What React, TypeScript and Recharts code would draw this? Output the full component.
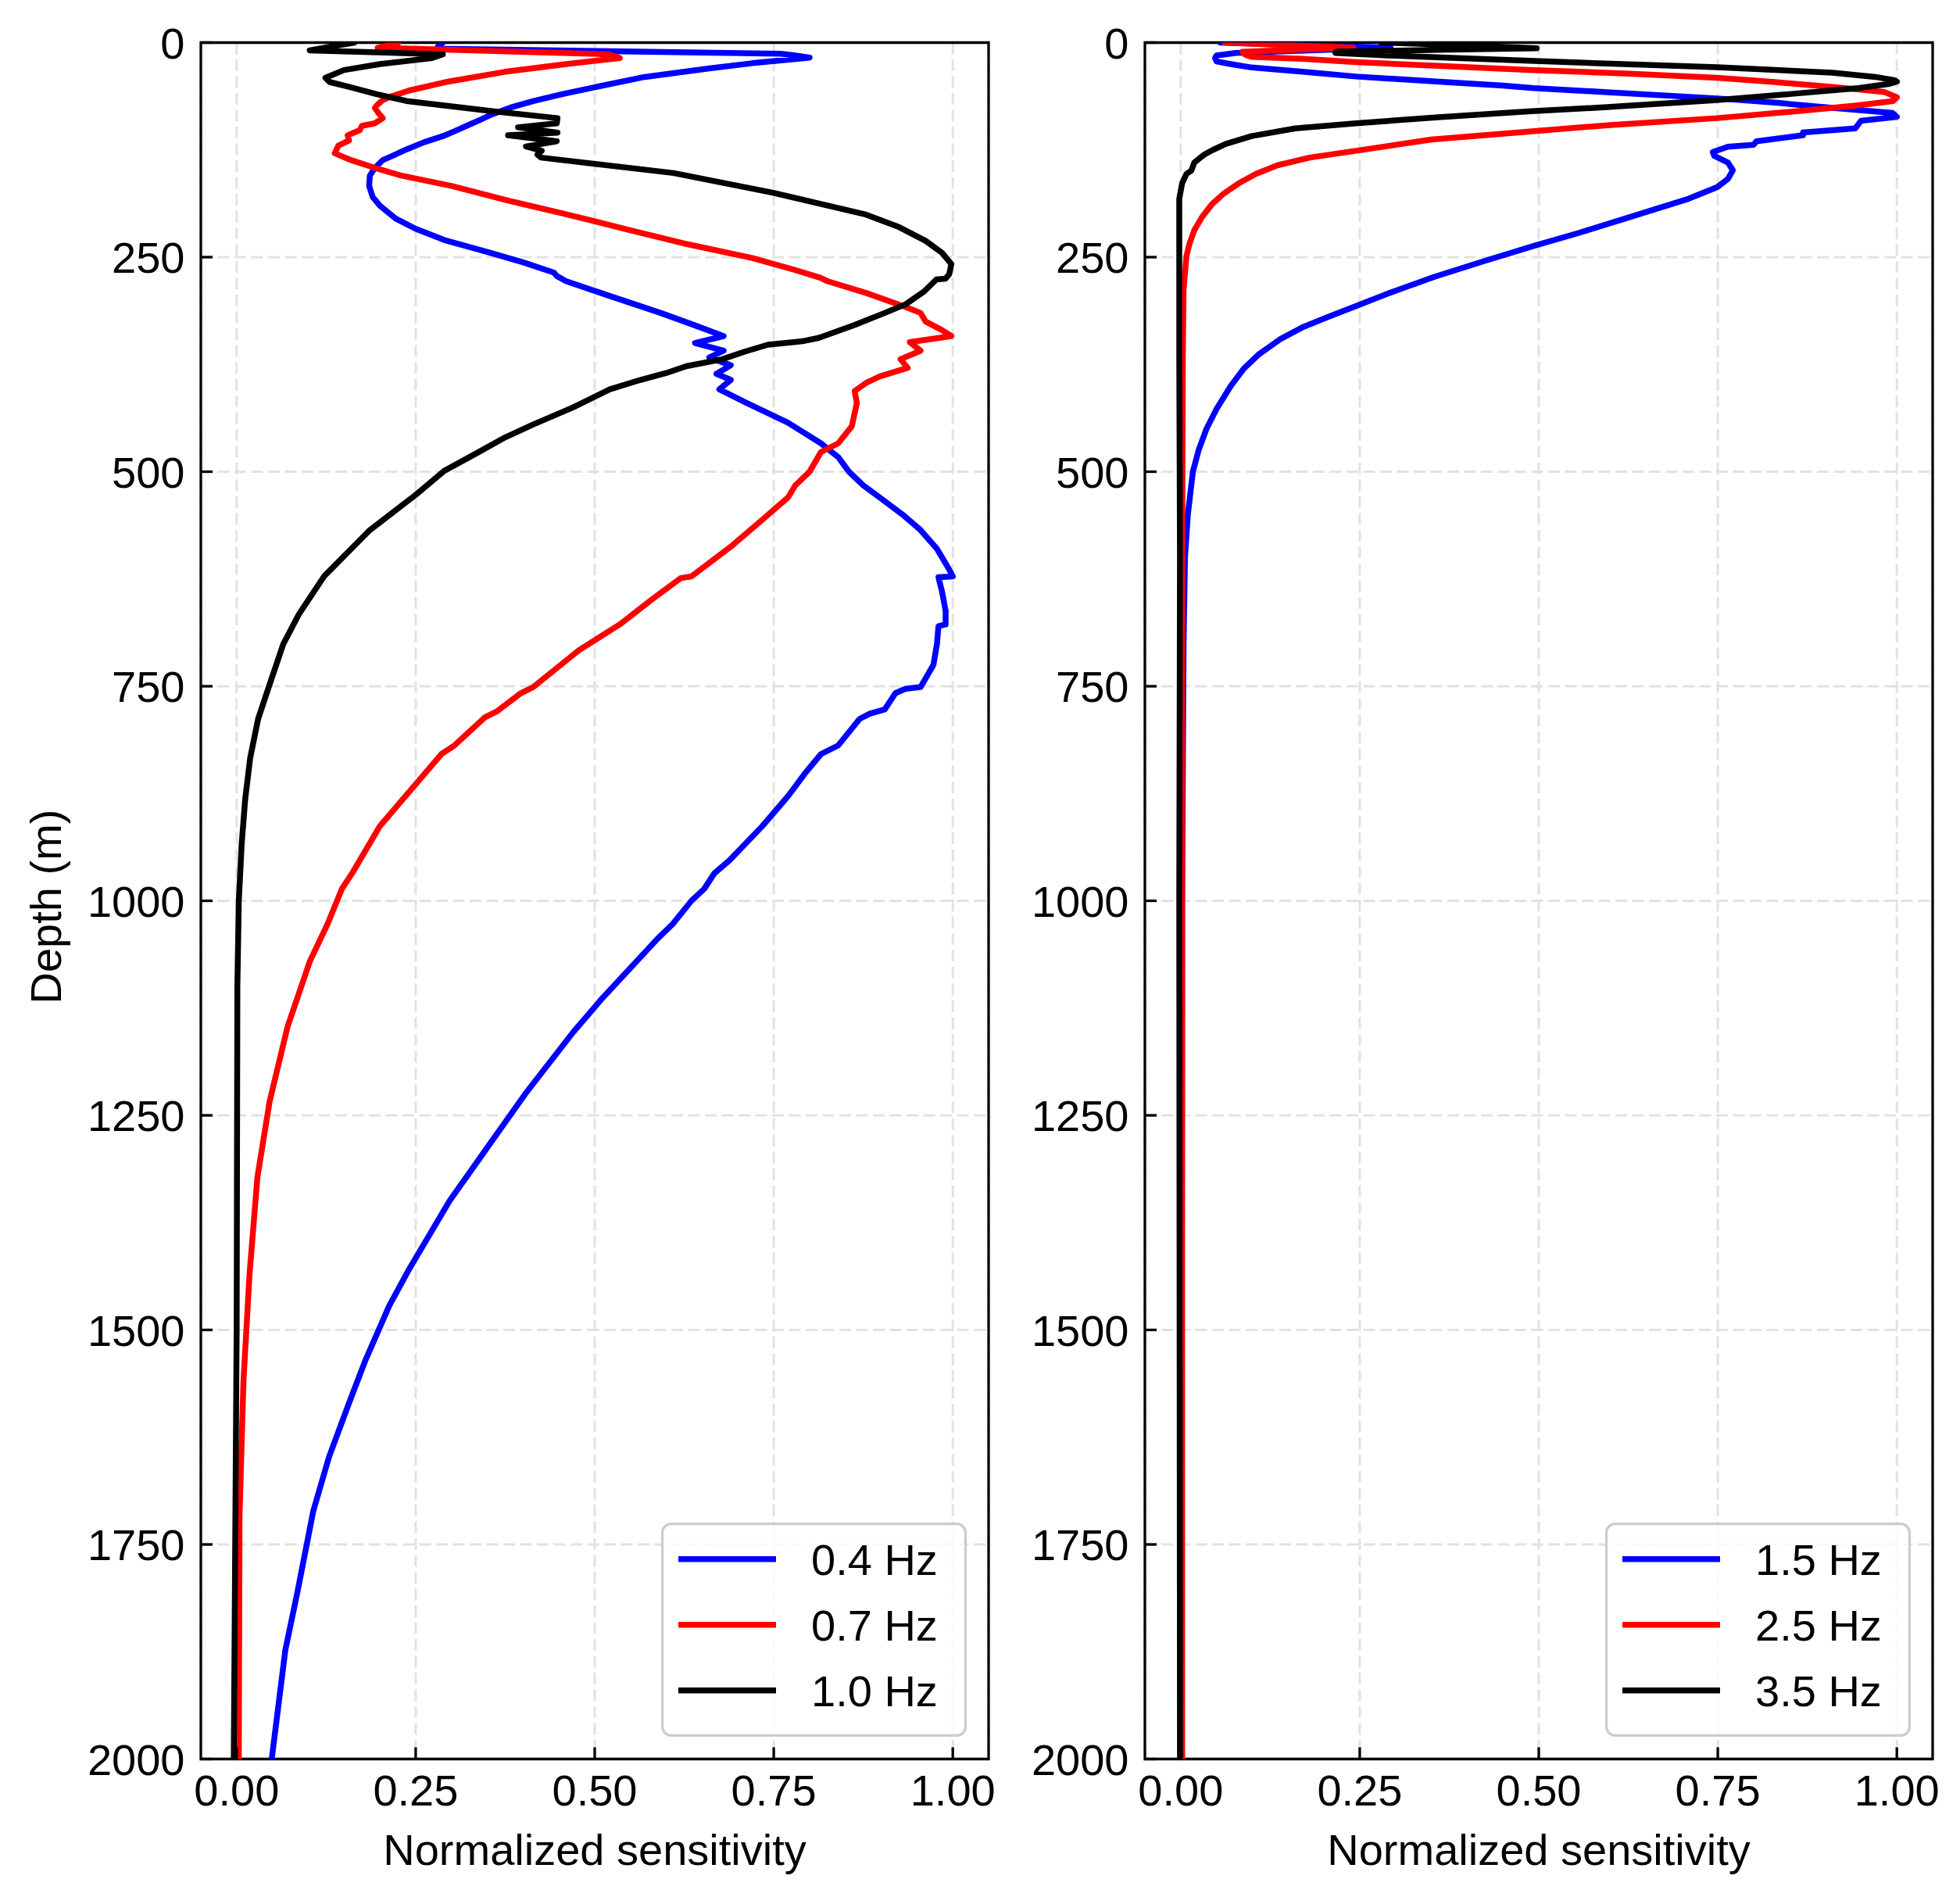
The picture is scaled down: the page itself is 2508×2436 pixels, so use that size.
import React from 'react';
import { LineChart, Line, XAxis, YAxis, CartesianGrid, Legend, Label, ReferenceArea } from 'recharts';

// ---------- data: [depth (m), normalized sensitivity] ----------
const LOW_04: [number, number][] = [
  [0, 0.288], [4.5, 0.281], [7, 0.28], [13, 0.76], [15, 0.78], [17.5, 0.8], [24, 0.72], [30, 0.66],
  [40, 0.57], [52, 0.5], [60, 0.455], [68, 0.415], [75, 0.385], [83.5, 0.357], [90, 0.34], [97, 0.321],
  [103, 0.305], [109, 0.288], [116, 0.262], [124.5, 0.237], [131, 0.22], [137, 0.204], [146, 0.193],
  [155, 0.186], [167, 0.185], [180, 0.19], [190, 0.2], [205, 0.222], [217, 0.25], [230, 0.29],
  [244, 0.35], [256, 0.4], [268, 0.443], [272, 0.447], [278, 0.46], [295, 0.52], [315, 0.592],
  [328, 0.635], [342, 0.68], [350, 0.64], [359, 0.68], [367, 0.66], [376, 0.69], [386, 0.67],
  [393, 0.69], [404, 0.674], [419, 0.71], [443, 0.77], [467, 0.816], [483, 0.84], [500, 0.855],
  [516, 0.875], [530, 0.898], [550, 0.93], [568, 0.955], [590, 0.978], [614, 0.995], [622, 1.0],
  [623, 0.98], [640, 0.985], [662, 0.99], [678, 0.99], [680, 0.98], [700, 0.978], [725, 0.973],
  [751, 0.955], [753, 0.934], [758, 0.92], [777, 0.905], [782, 0.884], [788, 0.87], [819, 0.84],
  [829, 0.816], [850, 0.795], [878, 0.77], [913, 0.734], [953, 0.688], [968, 0.667], [986, 0.653],
  [1000, 0.635], [1027, 0.609], [1044, 0.588], [1115, 0.509], [1153, 0.47], [1225, 0.403],
  [1291, 0.347], [1350, 0.297], [1429, 0.241], [1472, 0.213], [1535, 0.18], [1585, 0.157],
  [1648, 0.129], [1711, 0.107], [1805, 0.085], [1873, 0.068], [2000, 0.049],
];

const LOW_07: [number, number][] = [
  [0, 0.226], [6, 0.197], [13.7, 0.521], [18, 0.535], [25, 0.46], [34, 0.375], [45.5, 0.295],
  [56, 0.24], [63, 0.215], [67, 0.204], [72, 0.197], [76, 0.193], [82, 0.198], [88, 0.204],
  [94, 0.193], [97, 0.175], [102, 0.172], [108, 0.155], [114, 0.157], [120, 0.142], [129, 0.137],
  [137, 0.16], [146, 0.193], [155, 0.23], [167, 0.3], [184, 0.379], [200, 0.46], [217, 0.542],
  [235, 0.63], [251, 0.72], [265, 0.78], [274, 0.815], [278, 0.825], [292, 0.88], [308, 0.934],
  [315, 0.955], [325, 0.962], [335, 0.985], [342, 0.998], [349, 0.94], [359, 0.955], [369, 0.927],
  [379, 0.937], [389, 0.898], [396, 0.88], [406, 0.863], [420, 0.866], [447, 0.859], [467, 0.84],
  [477, 0.816], [500, 0.8], [516, 0.78], [530, 0.77], [556, 0.734], [586, 0.692], [622, 0.635],
  [624, 0.62], [650, 0.578], [678, 0.535], [708, 0.478], [751, 0.414], [758, 0.397], [779, 0.364],
  [786, 0.347], [819, 0.304], [829, 0.286], [871, 0.243], [913, 0.2], [967, 0.162], [986, 0.147],
  [1027, 0.127], [1071, 0.102], [1147, 0.071], [1234, 0.046], [1322, 0.029], [1435, 0.018],
  [1560, 0.0095], [1717, 0.004], [2000, 0.003],
];

const LOW_10: [number, number][] = [
  [0, 0.164], [9, 0.102], [13.7, 0.288], [18, 0.273], [25, 0.2], [32, 0.15], [41, 0.124], [46, 0.13],
  [51.6, 0.157], [60, 0.195], [68, 0.237], [80, 0.357], [88, 0.448], [94, 0.447], [98.7, 0.393],
  [105, 0.448], [108, 0.379], [115, 0.447], [121, 0.404], [126, 0.426], [130.5, 0.42], [134, 0.425],
  [152, 0.61], [175, 0.749], [200, 0.877], [215, 0.925], [231, 0.962], [245, 0.985], [258, 0.998],
  [270, 0.995], [275, 0.99], [276, 0.977], [290, 0.96], [305, 0.934], [315, 0.905], [329, 0.863],
  [344, 0.813], [348, 0.79], [352, 0.742], [360, 0.71], [369, 0.678], [377, 0.628], [385, 0.6],
  [393, 0.564], [404, 0.521], [425, 0.47], [445, 0.414], [460, 0.375], [478, 0.336], [499, 0.29],
  [527, 0.25], [568, 0.186], [622, 0.122], [666, 0.087], [701, 0.065], [753, 0.044], [788, 0.03],
  [833, 0.019], [881, 0.012], [934, 0.007], [1000, 0.003], [1100, 0.001], [1500, 0.0], [2000, -0.004],
];

const HIGH_15: [number, number][] = [
  [0, 0.055], [3, 0.17], [6, 0.293], [9, 0.18], [12, 0.077], [15, 0.05], [18, 0.048], [22, 0.05],
  [25, 0.07], [29, 0.099], [34, 0.17], [39.5, 0.245], [46, 0.37], [50, 0.45], [53, 0.493], [58, 0.6],
  [65, 0.749], [70, 0.83], [76, 0.91], [82, 0.994], [86.5, 1.0], [91, 0.95], [100, 0.942],
  [104.7, 0.869], [108, 0.869], [115, 0.804], [119, 0.8], [121.4, 0.764], [127.5, 0.743], [132, 0.745],
  [139.6, 0.764], [148.8, 0.771], [159, 0.764], [168.5, 0.749], [182, 0.709], [206, 0.617],
  [222, 0.555], [237, 0.493], [255, 0.422], [273, 0.354], [290, 0.297], [307, 0.245], [320, 0.205],
  [331, 0.172], [345, 0.14], [364, 0.108], [380, 0.088], [400, 0.07], [427, 0.05], [450, 0.036],
  [475, 0.025], [500, 0.017], [550, 0.01], [600, 0.006], [700, 0.004], [1000, 0.002], [2000, 0.001],
];

const HIGH_25: [number, number][] = [
  [0, 0.062], [3, 0.15], [6, 0.241], [8.5, 0.16], [10.6, 0.086], [14, 0.09], [16.7, 0.099],
  [19, 0.17], [22.8, 0.245], [27, 0.36], [32, 0.493], [36, 0.62], [41, 0.749], [46, 0.83],
  [51.6, 0.91], [57.7, 0.983], [63.8, 1.0], [68, 0.995], [73, 0.946], [79, 0.873], [88, 0.749],
  [96, 0.6], [104.7, 0.471], [113, 0.35], [126, 0.245], [134, 0.18], [143, 0.135], [153, 0.105],
  [164, 0.081], [176, 0.06], [188, 0.044], [203, 0.03], [218.6, 0.019], [235, 0.012], [249, 0.008],
  [288, 0.004], [364, 0.003], [600, 0.002], [2000, 0.002],
];

const HIGH_35: [number, number][] = [
  [0, 0.28], [3, 0.39], [6.6, 0.497], [8.5, 0.36], [10.5, 0.217], [12, 0.216], [15, 0.29],
  [21, 0.48], [28.8, 0.749], [35, 0.91], [40, 0.97], [44, 0.997], [45.5, 1.0], [48, 0.99],
  [53, 0.946], [60, 0.85], [67, 0.749], [75, 0.6], [80, 0.49], [87, 0.36], [94, 0.245], [100, 0.16],
  [109, 0.099], [118, 0.063], [125, 0.045], [130.5, 0.033], [139.7, 0.019], [149, 0.015],
  [153, 0.008], [164, 0.002], [182, -0.002], [364, -0.002], [600, -0.001], [1000, -0.002],
  [2000, -0.001],
];

const X_TICKS = [0, 0.25, 0.5, 0.75, 1.0];
const Y_TICKS = [0, 250, 500, 750, 1000, 1250, 1500, 1750, 2000];
const X_DOMAIN: [number, number] = [-0.05, 1.05];
const Y_DOMAIN: [number, number] = [0, 2000];

const LEFT_SERIES = [
  { name: '0.4 Hz', color: '#0000ff', points: LOW_04 },
  { name: '0.7 Hz', color: '#ff0000', points: LOW_07 },
  { name: '1.0 Hz', color: '#000000', points: LOW_10 },
];
const RIGHT_SERIES = [
  { name: '1.5 Hz', color: '#0000ff', points: HIGH_15 },
  { name: '2.5 Hz', color: '#ff0000', points: HIGH_25 },
  { name: '3.5 Hz', color: '#000000', points: HIGH_35 },
];

// ---------- style ----------
const FONT = '"Liberation Sans", Arial, Helvetica, sans-serif';
const FS = 56;
const H = 2436;
const TOP = 54.5;
const BOTTOM = 2250.5;
const LEG_W = 391;
const LEG_H = 274;
const LW = 7.5;

const toRows = (pts: [number, number][]) => pts.map(([d, v]) => ({ d, v }));

type PanelProps = {
  left: number;
  width: number;
  plotLeft: number;
  plotRight: number;
  series: typeof LEFT_SERIES;
  yLabel?: string;
  legendLeft: number;
};

function Panel({ left, width, plotLeft, plotRight, series, yLabel, legendLeft }: PanelProps) {
  const yTick = (props: any) => {
    const { y, payload } = props;
    return (
      <g>
        <line x1={plotLeft} x2={plotLeft + 15} y1={y} y2={y} stroke="#000" strokeWidth={3.3} />
        <text x={plotLeft - 20.5} y={y} dy={20} textAnchor="end" fontSize={FS} fontFamily={FONT} fill="#000">
          {payload.value}
        </text>
      </g>
    );
  };
  const xTick = (props: any) => {
    const { x, payload } = props;
    return (
      <g>
        <line x1={x} x2={x} y1={BOTTOM} y2={BOTTOM - 15} stroke="#000" strokeWidth={3.3} />
        <text x={x} y={BOTTOM + 59.5} textAnchor="middle" fontSize={FS} fontFamily={FONT} fill="#000">
          {Number(payload.value).toFixed(2)}
        </text>
      </g>
    );
  };
  const renderLegend = (props: any) => {
    const payload = props.payload || [];
    return (
      <svg width={LEG_W} height={LEG_H} style={{ display: 'block', overflow: 'visible' }}>
        <rect x={1.6} y={1.6} width={LEG_W - 3.2} height={LEG_H - 3.2} rx={11} ry={11}
          fill="rgba(255,255,255,0.8)" stroke="#cccccc" strokeWidth={3.2} />
        {payload.map((p: any, i: number) => {
          const cy = 46.7 + i * 84;
          return (
            <g key={i}>
              <line x1={22} x2={147} y1={cy} y2={cy} stroke={p.color} strokeWidth={LW} />
              <text x={192} y={cy + 20} fontSize={FS} fontFamily={FONT} fill="#000">{p.value}</text>
            </g>
          );
        })}
      </svg>
    );
  };
  const cx = (plotLeft + plotRight) / 2;
  return (
    <div style={{ position: 'absolute', left, top: 0 }}>
      <LineChart
        layout="vertical"
        width={width}
        height={H}
        margin={{ top: TOP, right: width - plotRight, bottom: 0, left: 0 }}
      >
        <CartesianGrid stroke="#e2e2e2" strokeWidth={3} strokeDasharray="15 6.5" />
        <XAxis
          type="number"
          dataKey="v"
          domain={X_DOMAIN}
          ticks={X_TICKS}
          allowDataOverflow
          height={H - BOTTOM}
          tick={xTick}
          tickLine={false}
          axisLine={false}
          interval={0}
        >
          <Label
            content={() => (
              <text x={cx} y={2386} textAnchor="middle" fontSize={FS} fontFamily={FONT} fill="#000">
                Normalized sensitivity
              </text>
            )}
          />
        </XAxis>
        <YAxis
          type="number"
          dataKey="d"
          domain={Y_DOMAIN}
          ticks={Y_TICKS}
          allowDataOverflow
          width={plotLeft}
          tick={yTick}
          tickLine={false}
          axisLine={false}
          interval={0}
        >
          {yLabel ? (
            <Label
              content={() => (
                <text x={78} y={1160} transform="rotate(-90, 78, 1160)" textAnchor="middle"
                  fontSize={FS} fontFamily={FONT} fill="#000">
                  {yLabel}
                </text>
              )}
            />
          ) : null}
        </YAxis>
        {series.map((s) => (
          <Line
            key={s.name}
            name={s.name}
            data={toRows(s.points)}
            dataKey="v"
            type="linear"
            stroke={s.color}
            strokeWidth={LW}
            strokeLinejoin="round"
            strokeLinecap="round"
            dot={false}
            activeDot={false}
            isAnimationActive={false}
          />
        ))}
        <ReferenceArea
          x1={X_DOMAIN[0]}
          x2={X_DOMAIN[1]}
          y1={Y_DOMAIN[0]}
          y2={Y_DOMAIN[1]}
          fill="none"
          fillOpacity={0}
          stroke="#000"
          strokeWidth={3.3}
          ifOverflow="visible"
        />
        <Legend
          layout="vertical"
          align="center"
          verticalAlign="middle"
          content={renderLegend}
          wrapperStyle={{ position: 'absolute', left: legendLeft, top: 1948, width: LEG_W, height: LEG_H }}
        />
      </LineChart>
    </div>
  );
}

export default function App() {
  return (
    <div style={{ position: 'absolute', left: 0, top: 0, width: 2508, height: H, background: '#fff' }}>
      <Panel left={0} width={1300} plotLeft={257} plotRight={1265} series={LEFT_SERIES}
        yLabel="Depth (m)" legendLeft={846} />
      <Panel left={1300} width={1208} plotLeft={165} plotRight={1173} series={RIGHT_SERIES}
        legendLeft={754} />
    </div>
  );
}
